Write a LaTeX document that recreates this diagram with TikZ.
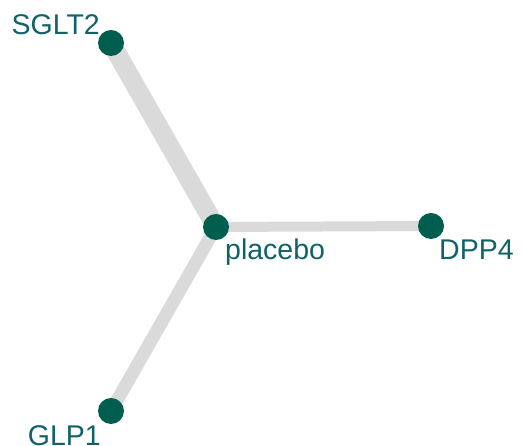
\documentclass[tikz,border=0pt]{standalone}
\usepackage{fontspec}
\setmainfont{Liberation Sans}
\usetikzlibrary{backgrounds}
\definecolor{nodegreen}{RGB}{0,94,78}
\definecolor{edgegray}{RGB}{218,218,218}
\definecolor{labelteal}{RGB}{14,98,104}
\begin{document}
\begin{tikzpicture}[x=1pt, y=1pt,
  treat/.style={circle, fill=nodegreen, inner sep=0pt, minimum size=26pt},
  lbl/.style={text=labelteal, inner sep=0pt, font=\fontsize{28.5}{30}\selectfont},
  edge/.style={draw=edgegray}]
  \useasboundingbox (0,0) rectangle (522,446);
  % treatments
  \node[treat] (sglt2) at (111,403) {};
  \node[treat] (placebo) at (216,219) {};
  \node[treat] (dpp4) at (431,220) {};
  \node[treat] (glp1) at (111,35) {};

  % labels
  \node[lbl, anchor=base east] (sglt2lbl) at (100,411) {SGLT2};
  \node[lbl, anchor=base west] (placebolbl) at (225,186) {placebo};
  \node[lbl, anchor=base west] (dpp4lbl) at (439,186) {DPP4};
  \node[lbl, anchor=base east] (glp1lbl) at (101,0) {GLP1};

  % comparisons
  \begin{scope}[on background layer]
    \draw[edge, line width=19pt] (sglt2.center) -- (placebo.center);
    \draw[edge, line width=10pt] (placebo.center) -- (dpp4.center);
    \draw[edge, line width=13pt] (placebo.center) -- (glp1.center);
  \end{scope}
\end{tikzpicture}
\end{document}
